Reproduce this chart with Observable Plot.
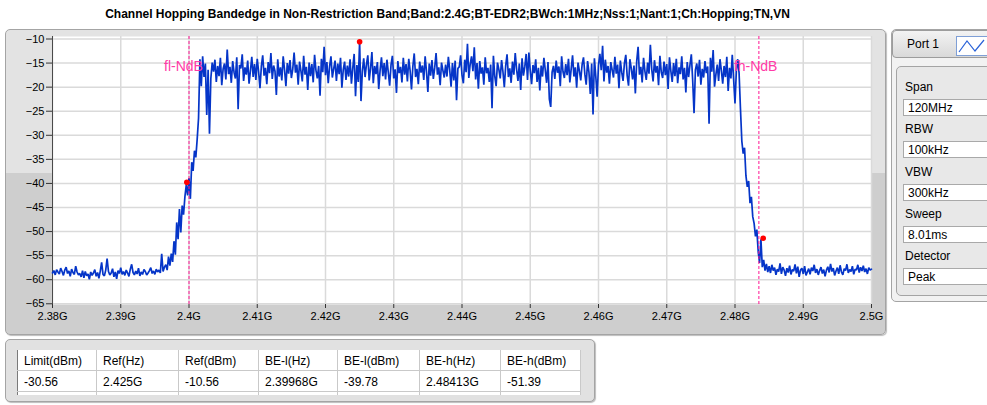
<!DOCTYPE html>
<html>
<head>
<meta charset="utf-8">
<script src="https://cdn.jsdelivr.net/npm/d3@7"></script>
<script src="https://cdn.jsdelivr.net/npm/@observablehq/plot@0.6"></script>
<style>
  html, body { margin: 0; padding: 0; background: #fff; }
  body { width: 987px; height: 405px; position: relative; overflow: hidden; font-family: "Liberation Sans", Arial, sans-serif; color: #000; }
  .abs { position: absolute; }
  #title { left: 0; width: 895px; top: 7px; text-align: center; font-weight: bold; font-size: 12px; white-space: nowrap; }
  #graphPanel { left: 5px; top: 29px; width: 879px; height: 304px; border: 1px solid #a4a4a4; border-radius: 5px;
    background: linear-gradient(to bottom, #e3e3e3 0, #e3e3e3 143px, #cecece 143px, #cecece 100%); box-shadow: 1px 1px 1px #bdbdbd; }
  #chart { left: 0; top: 0; }
  #tablePanel { left: 5px; top: 339px; width: 588px; height: 61px; border: 1px solid #a4a4a4; border-radius: 5px; background: #e1e1e1; box-shadow: 1px 1px 1px #bdbdbd; }
  table { position: absolute; left: 11px; top: 10px; border-collapse: collapse; table-layout: fixed; background: #fff; font-size: 12px; border-left: 1px solid #7a7a7a; }
  td { border-right: 1px solid #c9c9c9; border-bottom: 1px solid #c9c9c9; padding: 1px 0 0 6px; height: 19px; white-space: nowrap; }
  tr.stub td { height: 3px; border-bottom: none; padding: 0; }
  #side { left: 891px; top: 29px; width: 100px; height: 271px; border: 1px solid #a4a4a4; border-radius: 5px; background: #f2f2f2; }
  #tab { left: 892px; top: 30px; width: 100px; height: 26px; border: 1px solid #9c9c9c; border-radius: 4px; background: linear-gradient(#f3f3f3, #d9d9d9); }
  #tabText { left: 907px; top: 37px; font-size: 12px; }
  #icon { left: 956px; top: 36px; width: 33px; height: 18px; background: #fff; border: 1px solid #7f9fd6; }
  #settings { left: 896px; top: 66px; width: 95px; height: 228px; border: 1px solid #a4a4a4; border-radius: 5px; background: #e8e8e8; }
  .slabel { font-size: 12px; left: 905px; }
  .sbox { left: 903px; width: 90px; height: 17px; background: #fff; border: 1px solid #a9a9a9; font-size: 12px; line-height: 17px; padding-left: 4px; box-sizing: border-box; }
</style>
</head>
<body>
<div id="title" class="abs"></div>
<div id="graphPanel" class="abs"></div>
<div id="chart" class="abs"></div>
<div id="tablePanel" class="abs"></div>
<div id="side" class="abs"></div>
<div id="tab" class="abs"></div>
<div id="tabText" class="abs">Port 1</div>
<div id="icon" class="abs">
  <svg width="33" height="18"><polyline points="2,15 10,4 18,14 27,3" fill="none" stroke="#2a62d8" stroke-width="1.2"/></svg>
</div>
<div id="settings" class="abs"></div>
<div id="settingRows"></div>
<script>
// Sweep description: 2.38 GHz .. 2.50 GHz, one trace point every 0.2 MHz
const titleText = "Channel Hopping Bandedge in Non-Restriction Band;Band:2.4G;BT-EDR2;BWch:1MHz;Nss:1;Nant:1;Ch:Hopping;TN,VN";
const sweepStartMHz = 2380;
const sweepStepMHz = 0.2;

// Peak-detector trace, dBm
const powerDbm = [
  // noise floor below the band
  -58.6,-58.1,-59.0,-57.9,-58.4,-58.8,-57.6,-58.3,-59.1,-58.0,
  -57.4,-58.7,-58.2,-59.3,-57.8,-58.5,-58.9,-57.2,-58.4,-59.0,
  -58.7,-59.4,-58.1,-59.6,-58.3,-59.2,-58.8,-59.9,-58.4,-59.1,
  -58.6,-57.9,-59.3,-58.5,-59.7,-58.2,-56.4,-58.9,-59.2,-58.0,
  -55.6,-58.3,-59.0,-58.6,-57.7,-59.4,-58.4,-59.8,-58.1,-58.7,
  -57.5,-58.9,-58.3,-59.1,-58.0,-58.6,-59.3,-57.8,-56.8,-58.5,
  -59.0,-58.2,-58.8,-57.6,-59.2,-58.4,-58.9,-57.9,-58.3,-59.0,
  -58.6,-58.1,-57.5,-58.7,-58.2,-58.9,-57.8,-58.4,-58.0,-58.6,
  -54.6,-58.3,-57.4,
  // lower skirt
  -56.9,-58.0,-55.2,-57.1,-54.6,-56.3,-52.0,-54.8,-48.1,-51.6,
  -45.3,-50.2,-44.6,-46.5,-42.8,-40.3,-42.5,-38.9,-43.2,-35.6,
  -37.4,-33.2,-34.6,-30.8,-26.4,-14.2,-19.8,-13.6,-17.9,-15.1,
  -25.8,-16.4,-29.7,-18.2,-14.9,
  // hopping band
  -16.8,-14.3,-18.9,-15.6,-17.7,-13.9,-19.6,-16.2,-15.1,-18.4,
  -12.2,-17.3,-15.8,-19.1,-14.6,-16.9,-18.2,-13.8,-24.6,-15.4,
  -16.1,-13.2,-18.7,-15.9,-17.4,-14.5,-19.3,-16.6,-13.7,-17.9,
  -15.2,-18.5,-14.1,-16.8,-20.2,-15.7,-13.4,-17.6,-16.0,-19.4,
  -14.8,-17.1,-12.9,-18.3,-15.5,-16.7,-21.6,-14.2,-17.8,-15.9,
  -18.6,-13.6,-16.4,-19.8,-15.0,-17.2,-14.4,-18.1,-16.3,-12.8,
  -17.0,-15.3,-19.5,-14.7,-16.6,-18.8,-13.5,-17.4,-15.8,-20.6,
  -14.9,-17.7,-15.2,-19.0,-13.3,-16.5,-18.2,-15.6,-21.8,-14.1,
  -16.9,-11.6,-17.5,-14.8,-19.2,-15.7,-13.6,-18.0,-16.2,-14.5,
  -18.7,-15.1,-17.3,-13.9,-20.1,-16.4,-14.7,-18.5,-15.5,-17.8,
  -14.2,-19.3,-16.0,-13.1,-21.9,-15.4,-18.9,-10.56,-22.9,-16.7,
  -14.0,-17.9,-15.3,-13.4,-18.6,-16.1,-12.7,-19.2,-15.6,-17.3,
  -14.8,-20.4,-16.5,-13.8,-17.7,-15.0,-18.4,-14.3,-16.9,-19.7,
  -15.4,-13.5,-18.2,-16.3,-21.2,-14.6,-17.1,-15.8,-19.0,-13.9,
  -17.4,-15.2,-18.8,-14.1,-16.6,-20.5,-15.7,-13.0,-17.9,-16.2,
  -19.4,-14.7,-17.0,-15.5,-18.5,-13.6,-16.8,-21.0,-15.1,-17.6,
  -14.4,-18.3,-16.0,-12.9,-17.4,-15.9,-19.6,-14.9,-16.5,-18.0,
  -15.3,-17.8,-13.7,-16.4,-19.9,-15.0,-18.6,-14.5,-22.7,-16.1,
  -15.8,-13.4,-17.5,-19.2,-14.3,-16.9,-11.0,-18.1,-15.2,-13.6,
  -16.7,-11.7,-18.4,-15.0,-20.3,-14.6,-17.2,-15.9,-19.5,-13.8,
  -17.1,-16.0,-18.9,-15.3,-24.4,-13.5,-17.7,-19.8,-14.9,-16.3,
  -18.2,-14.4,-16.8,-20.0,-15.6,-13.2,-17.9,-16.1,-19.1,-14.7,
  -17.4,-12.9,-16.3,-18.7,-15.1,-20.6,-14.0,-17.6,-15.8,-13.1,
  -18.5,-12.8,-16.6,-19.4,-15.4,-17.1,-14.2,-18.9,-16.0,-20.7,
  -15.5,-17.8,-13.9,-16.4,-19.1,-14.8,-22.5,-24.1,-16.9,-15.6,
  -18.3,-14.5,-17.0,-15.7,-19.8,-13.6,-16.8,-18.1,-15.2,-17.5,
  -14.1,-19.0,-16.2,-13.4,-17.8,-15.9,-20.1,-14.9,-16.6,-18.6,
  -15.3,-13.8,-17.3,-19.5,-14.6,-16.9,-21.4,-15.1,-25.7,-14.0,
  -17.7,-22.0,-15.4,-13.1,-16.5,-11.4,-18.8,-14.3,-17.0,-15.6,
  -19.3,-14.8,-16.4,-18.0,-13.7,-17.2,-15.3,-20.2,-14.5,-16.9,
  -18.7,-15.0,-13.3,-17.6,-19.7,-14.2,-16.1,-18.4,-15.5,-21.3,
  -14.6,-11.6,-17.4,-15.8,-19.0,-13.9,-16.7,-18.5,-14.9,-17.2,
  -11.2,-16.3,-18.8,-14.4,-17.0,-15.6,-19.6,-13.5,-16.9,-18.1,
  -14.7,-17.5,-15.2,-20.4,-13.8,-16.6,-18.9,-15.0,-17.7,-14.1,
  -19.2,-15.9,-17.3,-13.6,-18.4,-16.0,-21.1,-14.8,-17.9,-15.4,
  -13.2,-18.6,-25.4,-16.4,-15.1,-17.8,-14.3,-19.5,-16.2,-18.0,
  -14.6,-17.1,-15.7,-27.6,-13.9,-16.8,-12.3,-19.9,-17.4,-15.3,
  -18.7,-14.2,-16.5,-19.3,-15.6,-17.9,-13.7,-20.8,-16.0,-18.2,
  -13.3,-18.4,-23.4,-16.6,-14.2,-17.1,
  // upper skirt
  -24.5,-31.2,-33.8,-32.6,-38.4,-40.7,-39.5,-44.1,-42.8,-46.9,
  -48.3,-51.0,-49.6,-54.2,-56.5,-51.6,-57.4,-55.9,-58.1,-56.7,
  -58.4,
  // noise floor above the band
  -57.2,-58.6,-56.9,-58.1,-57.5,-59.0,-57.8,-58.3,-56.6,-58.8,
  -57.4,-58.0,-59.2,-57.6,-58.5,-57.1,-58.9,-57.9,-58.2,-56.8,
  -58.7,-57.3,-59.4,-58.0,-57.6,-58.8,-57.2,-59.1,-58.4,-57.7,
  -58.9,-57.5,-58.2,-56.9,-58.6,-57.8,-59.0,-58.1,-57.4,-58.7,
  -57.9,-59.3,-58.0,-57.3,-58.5,-56.7,-58.3,-57.6,-59.1,-58.2,
  -57.5,-58.8,-57.0,-58.4,-59.0,-57.7,-58.1,-56.8,-58.6,-57.9,
  -58.3,-57.2,-58.9,-57.8,-58.0,-56.9,-58.5,-57.4,-58.2,-57.1,
  -58.4,-57.7,-58.8,-57.5,-58.0,-57.8
];

// Axis ticks (GHz / dBm) and their labels
const xTicks = [2.38, 2.39, 2.40, 2.41, 2.42, 2.43, 2.44, 2.45, 2.46, 2.47, 2.48, 2.49, 2.50];
const xTickLabels = ["2.38G","2.39G","2.4G","2.41G","2.42G","2.43G","2.44G","2.45G","2.46G","2.47G","2.48G","2.49G","2.5G"];
const yTicks = [-10, -15, -20, -25, -30, -35, -40, -45, -50, -55, -60, -65];

// Band edges of the 2.4 GHz ISM band and their labels
const edgeFreqs = [2.4, 2.4835];
const edgeNames = ["fl-NdB", "fh-NdB"];

// Markers: lower band-edge, reference peak, upper band-edge
const markerFreqs = [2.39968, 2.425, 2.48413];
const markerLevels = [-39.78, -10.56, -51.39];

// Result table
const tableHeaders = ["Limit(dBm)", "Ref(Hz)", "Ref(dBm)", "BE-l(Hz)", "BE-l(dBm)", "BE-h(Hz)", "BE-h(dBm)"];
const tableValues = ["-30.56", "2.425G", "-10.56", "2.39968G", "-39.78", "2.48413G", "-51.39"];

// Analyzer settings
const settingNames = ["Span", "RBW", "VBW", "Sweep", "Detector"];
const settingValues = ["120MHz", "100kHz", "300kHz", "8.01ms", "Peak"];

const trace = powerDbm.map((p, i) => ({f: (sweepStartMHz + i * sweepStepMHz) / 1000, p}));
const markers = markerFreqs.map((f, i) => ({f, p: markerLevels[i]}));
const edges = edgeFreqs.map((f, i) => ({f, name: edgeNames[i]}));
const edgeLabelLevel = -15.7;

document.getElementById("title").textContent = titleText;

const chart = Plot.plot({
  width: 987,
  height: 340,
  marginLeft: 52,
  marginRight: 116,
  marginTop: 36,
  marginBottom: 36,
  style: {background: "transparent", fontFamily: "Liberation Sans, Arial, sans-serif", fontSize: "11px", color: "#000", overflow: "visible"},
  x: {domain: [2.38, 2.5]},
  y: {domain: [-65.15, -9.48]},
  marks: [
    Plot.frame({fill: "white", stroke: null}),
    Plot.gridX(xTicks, {stroke: "#dadada", strokeOpacity: 1, strokeWidth: 1.5}),
    Plot.gridY(yTicks, {stroke: "#dadada", strokeOpacity: 1, strokeWidth: 1.5}),
    Plot.ruleX([2.38], {stroke: "#4a4a4a"}),
    Plot.axisY(yTicks, {tickSize: 6, tickPadding: 2, stroke: "#333", label: null}),
    Plot.axisX(xTicks, {tickSize: 4, tickPadding: 4, stroke: "#333", label: null,
      tickFormat: d => xTickLabels[xTicks.indexOf(d)]}),
    Plot.line(trace, {x: "f", y: "p", stroke: "#0535c8", strokeWidth: 1.7, strokeLinejoin: "miter"}),
    Plot.ruleX(edges, {x: "f", stroke: "#ff1493", strokeWidth: 1, strokeDasharray: "3,2"}),
    Plot.text(edges, {x: "f", y: () => edgeLabelLevel, text: "name", textAnchor: "start", dx: -25,
      fill: "#ff3aa6", fontSize: 14, fontFamily: "Liberation Sans, Arial, sans-serif", letterSpacing: "0.8px"}),
    Plot.dot(markers, {x: "f", y: "p", r: 2.8, fill: "#ff0000", stroke: null})
  ]
});
document.getElementById("chart").appendChild(chart);

// Result table
const table = document.createElement("table");
const widths = [79, 82, 80, 79, 82, 81, 80];
const colgroup = document.createElement("colgroup");
widths.forEach(w => { const c = document.createElement("col"); c.style.width = w + "px"; colgroup.appendChild(c); });
table.appendChild(colgroup);
[tableHeaders, tableValues, tableHeaders.map(() => "")].forEach((row, r) => {
  const tr = document.createElement("tr");
  if (r === 2) tr.className = "stub";
  row.forEach(v => { const td = document.createElement("td"); td.textContent = v; tr.appendChild(td); });
  table.appendChild(tr);
});
document.getElementById("tablePanel").appendChild(table);

// Settings list
const rows = document.getElementById("settingRows");
settingNames.forEach((name, i) => {
  const top = 80 + i * 42.3;
  const l = document.createElement("div");
  l.className = "abs slabel";
  l.style.top = top + "px";
  l.textContent = name;
  rows.appendChild(l);
  const b = document.createElement("div");
  b.className = "abs sbox";
  b.style.top = (top + 19) + "px";
  b.textContent = settingValues[i];
  rows.appendChild(b);
});
</script>
</body>
</html>
